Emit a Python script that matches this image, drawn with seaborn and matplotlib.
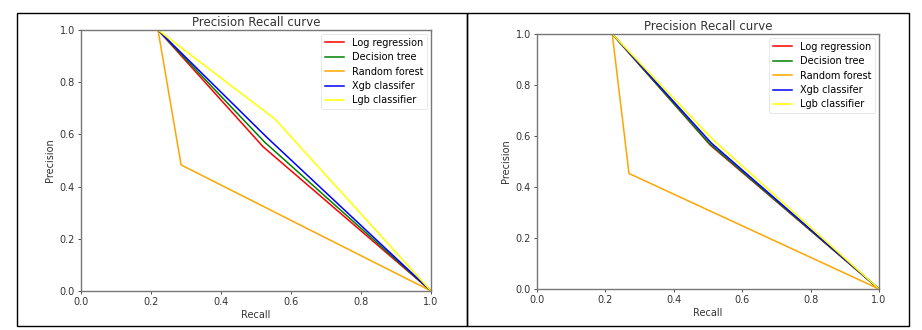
import matplotlib
matplotlib.use("Agg")
import matplotlib.pyplot as plt
from matplotlib.patches import Rectangle
import pandas as pd
import seaborn as sns

models = ["Log regression", "Decision tree", "Random forest", "Xgb classifer", "Lgb classifier"]
colors = ["red", "green", "orange", "blue", "yellow"]

# left panel: each curve has three points (recall, precision)
left_recall = {
    "Log regression": [0.22, 0.52, 1.0],
    "Decision tree": [0.22, 0.525, 1.0],
    "Random forest": [0.22, 0.286, 1.0],
    "Xgb classifer": [0.22, 0.53, 1.0],
    "Lgb classifier": [0.22, 0.554, 1.0],
}
left_precision = {
    "Log regression": [1.0, 0.553, 0.0],
    "Decision tree": [1.0, 0.57, 0.0],
    "Random forest": [1.0, 0.483, 0.0],
    "Xgb classifer": [1.0, 0.59, 0.0],
    "Lgb classifier": [1.0, 0.659, 0.0],
}

# right panel
right_recall = {
    "Log regression": [0.22, 0.506, 1.0],
    "Decision tree": [0.22, 0.503, 1.0],
    "Random forest": [0.22, 0.269, 1.0],
    "Xgb classifer": [0.22, 0.51, 1.0],
    "Lgb classifier": [0.22, 0.515, 1.0],
}
right_precision = {
    "Log regression": [1.0, 0.565, 0.0],
    "Decision tree": [1.0, 0.572, 0.0],
    "Random forest": [1.0, 0.453, 0.0],
    "Xgb classifer": [1.0, 0.572, 0.0],
    "Lgb classifier": [1.0, 0.585, 0.0],
}

ticks = [0.0, 0.2, 0.4, 0.6, 0.8, 1.0]
tick_labels = ["0.0", "0.2", "0.4", "0.6", "0.8", "1.0"]


def make_df(rec, prec):
    rows = []
    for m in models:
        for i, (r, p) in enumerate(zip(rec[m], prec[m])):
            rows.append({"model": m, "order": i, "Recall": r, "Precision": p})
    return pd.DataFrame(rows)


fig = plt.figure(figsize=(9.22, 3.3), dpi=100)
W, H = 922, 330

# panel borders
for (x0, x1) in [(17, 467), (467, 909)]:
    fig.add_artist(Rectangle((x0 / W, 1 - 326 / H), (x1 - x0) / W, (326 - 13) / H,
                             transform=fig.transFigure, fill=False,
                             edgecolor="black", linewidth=1.0))

axes_px = [(81, 431, 30, 291), (537, 879, 34, 289)]
datasets = [(left_recall, left_precision), (right_recall, right_precision)]

for (l, r, t, b), (rec, prec) in zip(axes_px, datasets):
    ax = fig.add_axes([l / W, 1 - b / H, (r - l) / W, (b - t) / H])
    df = make_df(rec, prec)
    sns.lineplot(data=df, x="Recall", y="Precision", hue="model",
                 hue_order=models, palette=colors, sort=False,
                 estimator=None, units="model", linewidth=1.1, ax=ax)
    ax.set_xlim(0, 1)
    ax.set_ylim(0, 1)
    ax.set_xticks(ticks)
    ax.set_xticklabels(tick_labels)
    ax.set_yticks(ticks)
    ax.set_yticklabels(tick_labels)
    ax.tick_params(labelsize=7, length=2.5, width=0.6, colors="#333333", pad=2)
    for s in ax.spines.values():
        s.set_color("#777777")
        s.set_linewidth(1.0)
    ax.set_xlabel("Recall", fontsize=7, color="#333333", labelpad=2)
    ax.set_ylabel("Precision", fontsize=7, color="#333333", labelpad=3)
    ax.set_title("Precision Recall curve", fontsize=8.5, color="#333333", pad=3)
    leg = ax.legend(loc="upper right", fontsize=7, frameon=True,
                    handlelength=2.0, borderpad=0.4, labelspacing=0.45,
                    handletextpad=0.8, borderaxespad=0.4)
    leg.get_frame().set_edgecolor("#dddddd")
    leg.get_frame().set_linewidth(0.6)
    for line in leg.get_lines():
        line.set_linewidth(1.1)

fig.savefig("out.png", dpi=100)
